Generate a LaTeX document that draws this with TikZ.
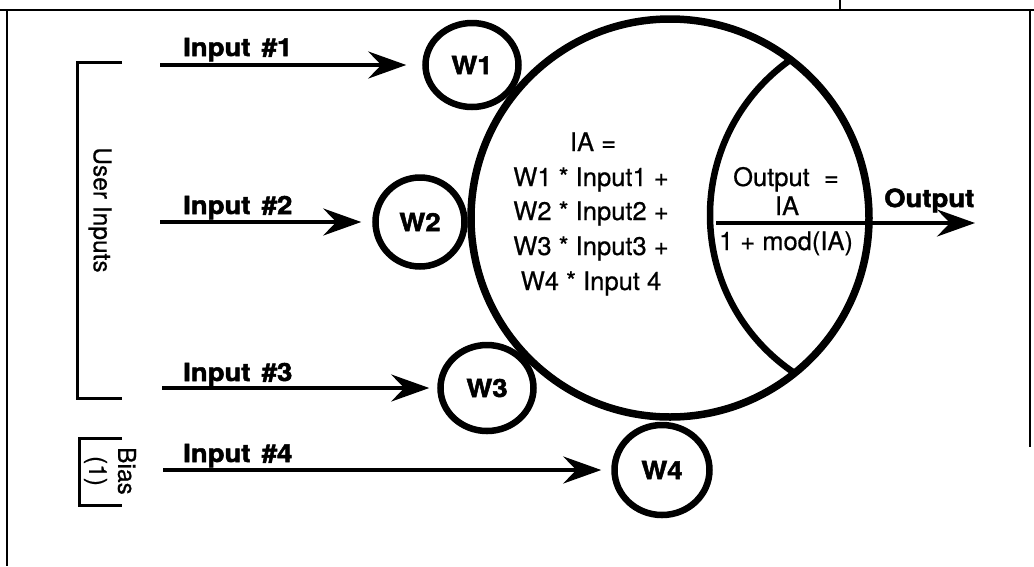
\documentclass[tikz,border=0pt]{standalone}
\usepackage{fontspec}
\setmainfont{TeX Gyre Heros}[FakeBold=0.6]
\newfontfamily\heavy{TeX Gyre Heros}[FakeStretch=1.1,FakeBold=2]
\usetikzlibrary{arrows.meta,shapes.geometric}
\begin{document}
\begin{tikzpicture}[x=1pt,y=-1pt,
  frame/.style={line width=2pt},
  bracket/.style={line width=3pt},
  wnode/.style={draw,ellipse,line width=6.5pt,inner sep=0pt,font=\heavy\bfseries\fontsize{25}{30}\selectfont},
  inarrow/.style={line width=4pt,-{Stealth[length=38pt,width=27pt,inset=13pt]}},
  lbl/.style={anchor=base west,inner sep=0pt,font=\heavy\bfseries\fontsize{25}{30}\selectfont},
  eq/.style={anchor=base,inner sep=0pt,font=\fontsize{25.5}{30}\selectfont},
  side/.style={rotate=-90,inner sep=0pt,align=center,font=\fontsize{24.5}{29}\selectfont}]
\useasboundingbox (0,0) rectangle (1034,566);
% frame
\draw[frame] (0,10) -- (1034,10);
\draw[frame] (840,0) -- (840,10);
\draw[frame] (7,10) -- (7,566);
\draw[frame] (1030,10) -- (1030,447);
% brackets
\draw[bracket] (122,62) -- (77,62) -- (77,398) -- (122,398);
\draw[bracket] (122,438) -- (79,438) -- (79,505) -- (122,505);
\node[side] (ui) at (100,210) {User Inputs};
\node[side] (bias) at (110,471) {Bias\\(1)};
% inner arc
\begin{scope}
  \clip (670,218) circle[radius=200];
  \draw[line width=6.5pt] (900,215) circle[radius=190];
\end{scope}
% main circle
\node[draw,circle,line width=7.5pt,minimum size=398pt,inner sep=0pt] (main) at (670,218) {};
% weights
\node[wnode,minimum width=93pt,minimum height=84pt] (w1) at (472,65) {W1};
\node[wnode,minimum width=89pt,minimum height=89pt] (w2) at (420,222) {W2};
\node[wnode,minimum width=93pt,minimum height=86pt] (w3) at (487,388) {W3};
\node[wnode,minimum width=95pt,minimum height=90pt] (w4) at (662,470) {W4};
% inputs
\coordinate (s1) at (160,65);
\coordinate (s2) at (160,222);
\coordinate (s3) at (162,388);
\coordinate (s4) at (163,470);
\draw[inarrow,shorten >=16pt] (s1) -- (w1.west);
\draw[inarrow,shorten >=11pt] (s2) -- (w2.west);
\draw[inarrow,shorten >=8pt] (s3) -- (w3.west);
\draw[inarrow,shorten >=10pt] (s4) -- (w4.west);
\node[lbl] (l1) at (183,56) {Input\hspace{0.45em}\#1};
\node[lbl] (l2) at (183,214) {Input\hspace{0.45em}\#2};
\node[lbl] (l3) at (183,381) {Input\hspace{0.45em}\#3};
\node[lbl] (l4) at (183,462) {Input\hspace{0.45em}\#4};
% equation text
\node[eq] (e0) at (593,151) {IA =};
\node[eq] (e1) at (591,186) {W1 * Input1 +};
\node[eq] (e2) at (591,220) {W2 * Input2 +};
\node[eq] (e3) at (591,255) {W3 * Input3 +};
\node[eq] (e4) at (591,290) {W4 * Input 4};
% output fraction
\node[eq] (o1) at (786,186) {Output\ \ =};
\node[eq] (o2) at (787,215) {IA};
\node[eq] (o3) at (786,250) {1 + mod(IA)};
\coordinate (fl) at (716,223);
\coordinate (fr) at (870,223);
\coordinate (ot) at (975,223);
\draw[line width=3.5pt] (fl) -- (fr);
\draw[inarrow] (fr) -- (ot);
\node[lbl] (ol) at (884,207) {Output};
\end{tikzpicture}
\end{document}
